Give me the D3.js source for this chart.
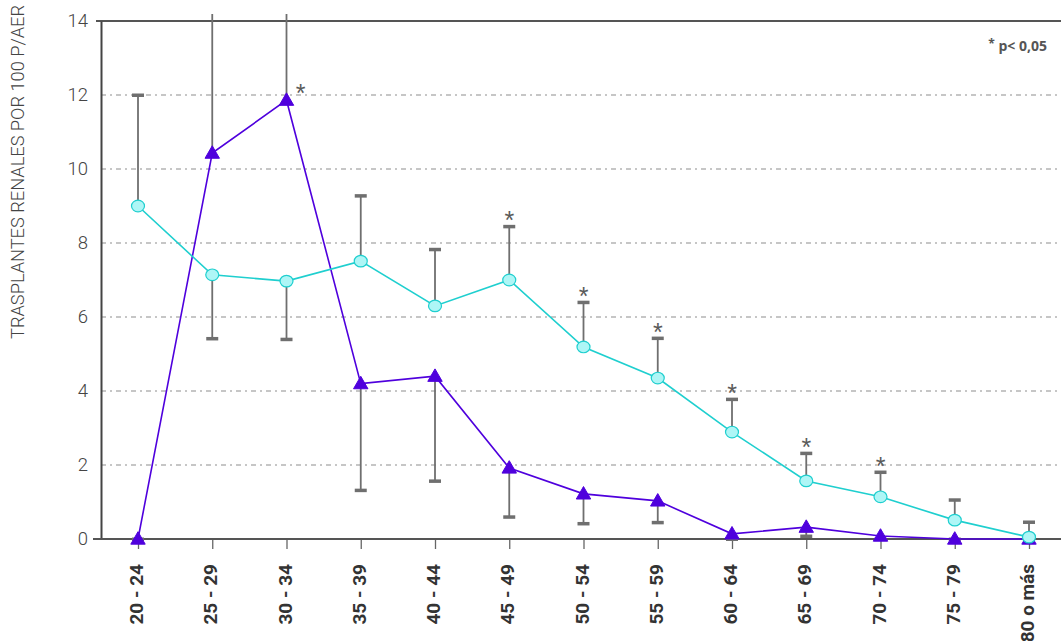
<!DOCTYPE html>
<html>
<head>
<meta charset="utf-8">
<script src="https://cdn.jsdelivr.net/npm/d3@7/dist/d3.min.js"></script>
<style>
  html, body { margin: 0; padding: 0; background: #fff; }
  svg { display: block; }
</style>
</head>
<body>
<svg id="chart" width="1061" height="641"></svg>
<script>
// Age groups
const categories = ["20 - 24", "25 - 29", "30 - 34", "35 - 39", "40 - 44", "45 - 49", "50 - 54",
                    "55 - 59", "60 - 64", "65 - 69", "70 - 74", "75 - 79", "80 o más"];

// Series A (circles): rate and error-bar end
const circleValues = [9.0, 7.14, 6.97, 7.51, 6.30, 7.0, 5.19, 4.35, 2.89, 1.57, 1.14, 0.51, 0.05];
const circleErrEnd = [12.0, 5.42, 5.40, 9.28, 7.83, 8.45, 6.40, 5.43, 3.78, 2.32, 1.81, 1.06, 0.46];

// Series B (triangles): rate and error-bar end
const triangleValues = [0.0, 10.43, 11.86, 4.2, 4.4, 1.92, 1.22, 1.03, 0.14, 0.32, 0.08, 0.0, 0.0];
const triangleErrEnd = [0.0, 16.5, 16.5, 1.32, 1.57, 0.60, 0.42, 0.45, 0.0, 0.08, 0.0, 0.0, 0.0];

// Significant differences (p < 0,05)
const starAboveBar = ["45 - 49", "50 - 54", "55 - 59", "60 - 64", "65 - 69", "70 - 74"];
const starBesideMarker = ["30 - 34"];

const yTicks = [0, 2, 4, 6, 8, 10, 12, 14];

const svg = d3.select("#chart");
const W = 1061, H = 641;
const plot = { left: 101, top: 21, right: 1061, bottom: 539 };

const x = d3.scalePoint().domain(categories).range([138, 1029]);
const y = d3.scaleLinear().domain([0, 14]).range([plot.bottom, plot.top]);

const cyan = "#1fcfcf", cyanFill = "#aef6f6";
const purple = "#4f00dd";
const barGrey = "#6f6f6f";
const textGrey = "#444";

svg.append("defs").append("clipPath").attr("id", "clip")
  .append("rect").attr("x", 0).attr("y", 14).attr("width", W).attr("height", H - 14);

// Horizontal dash-dot gridlines
svg.append("g").selectAll("line")
  .data(yTicks.filter(d => d > 0 && d < 14))
  .join("line")
  .attr("x1", plot.left).attr("x2", plot.right)
  .attr("y1", d => y(d)).attr("y2", d => y(d))
  .attr("stroke", "#b4b4b4").attr("stroke-width", 1.3)
  .attr("stroke-dasharray", "5,4,2,4");

// Frame: top line
svg.append("line").attr("x1", 96).attr("x2", plot.right)
  .attr("y1", y(14)).attr("y2", y(14)).attr("stroke", "#555").attr("stroke-width", 2);

// Y axis
const yAxis = d3.axisLeft(y).tickValues(yTicks).tickSize(0).tickPadding(13);
const gy = svg.append("g").attr("transform", `translate(${plot.left},0)`).call(yAxis);
gy.select(".domain").attr("stroke", "#444").attr("stroke-width", 2);
gy.selectAll("text")
  .attr("font-family", "Roboto, 'Liberation Sans', sans-serif")
  .attr("font-weight", 300).attr("font-size", 18.5).attr("fill", textGrey);

// X axis
const xAxis = d3.axisBottom(x).tickSize(10).tickPadding(14).tickSizeOuter(0);
const gx = svg.append("g").attr("transform", `translate(0,${plot.bottom})`).call(xAxis);
gx.select(".domain").remove();
gx.selectAll(".tick line").attr("stroke", "#666").attr("stroke-width", 1.3);
gx.selectAll("text")
  .attr("font-family", "Roboto, 'Liberation Sans', sans-serif")
  .attr("font-weight", 700).attr("font-size", 19).attr("fill", "#333")
  .attr("text-anchor", "end").attr("dy", "0.35em")
  .attr("transform", "translate(-2,12) rotate(-90)")
  .attr("x", -13).attr("y", 0);
svg.append("line").attr("x1", 93).attr("x2", plot.right)
  .attr("y1", plot.bottom).attr("y2", plot.bottom)
  .attr("stroke", "#555").attr("stroke-width", 2);

// Y axis title
svg.append("text")
  .attr("transform", `translate(24,172) rotate(-90)`)
  .attr("text-anchor", "middle")
  .attr("font-family", "Roboto, 'Liberation Sans', sans-serif")
  .attr("font-weight", 300).attr("font-size", 18).attr("fill", textGrey)
  .attr("textLength", 334).attr("lengthAdjust", "spacingAndGlyphs")
  .text("TRASPLANTES RENALES POR 100 P/AER");

// Error bars
const bars = svg.append("g").attr("clip-path", "url(#clip)");
function drawBars(values, ends) {
  const data = categories.map((c, i) => ({ c, v: values[i], e: ends[i] }));
  bars.append("g").selectAll("line").data(data).join("line")
    .attr("x1", d => x(d.c)).attr("x2", d => x(d.c))
    .attr("y1", d => y(d.v)).attr("y2", d => y(d.e))
    .attr("stroke", barGrey).attr("stroke-width", 1.8);
  bars.append("g").selectAll("rect").data(data).join("rect")
    .attr("x", d => x(d.c) - 6).attr("width", 12)
    .attr("y", d => y(d.e) - 1.5).attr("height", 3.5)
    .attr("fill", barGrey);
}
drawBars(circleValues, circleErrEnd);
drawBars(triangleValues, triangleErrEnd);

// Lines
const line = d3.line().x((d, i) => x(categories[i])).y(d => y(d));
svg.append("path").datum(triangleValues).attr("d", line)
  .attr("fill", "none").attr("stroke", purple).attr("stroke-width", 1.6);
svg.append("path").datum(circleValues).attr("d", line)
  .attr("fill", "none").attr("stroke", cyan).attr("stroke-width", 1.6);

// Triangle markers
const tri = d3.symbol().type(d3.symbolTriangle).size(90);
svg.append("g").selectAll("path").data(triangleValues).join("path")
  .attr("d", tri)
  .attr("transform", (d, i) => `translate(${x(categories[i])},${y(d) + 1})`)
  .attr("fill", purple).attr("stroke", purple).attr("stroke-width", 1);

// Circle markers
svg.append("g").selectAll("ellipse").data(circleValues).join("ellipse")
  .attr("cx", (d, i) => x(categories[i])).attr("cy", d => y(d))
  .attr("rx", 6.5).attr("ry", 5.8)
  .attr("fill", cyanFill).attr("stroke", cyan).attr("stroke-width", 1.2);

// Significance stars
const starFont = "'Liberation Sans', sans-serif";
svg.append("g").selectAll("text").data(starAboveBar).join("text")
  .attr("x", d => x(d)).attr("y", d => y(circleErrEnd[categories.indexOf(d)]) + 3)
  .attr("text-anchor", "middle")
  .attr("font-family", starFont).attr("font-size", 25).attr("fill", "#5a5a5a")
  .text("*");
svg.append("g").selectAll("text").data(starBesideMarker).join("text")
  .attr("x", d => x(d) + 14).attr("y", d => y(triangleValues[categories.indexOf(d)]) + 2)
  .attr("text-anchor", "middle")
  .attr("font-family", starFont).attr("font-size", 25).attr("fill", "#5a5a5a")
  .text("*");

// Note
const note = svg.append("text").attr("x", 1047).attr("y", 51).attr("text-anchor", "end")
  .attr("font-family", "'Open Sans', 'Liberation Sans', sans-serif")
  .attr("font-weight", 700).attr("font-size", 14).attr("fill", "#555");
note.append("tspan").attr("font-size", 12).attr("dy", -3).text("*");
note.append("tspan").attr("dy", 3).text(" p< 0,05");
</script>
</body>
</html>
